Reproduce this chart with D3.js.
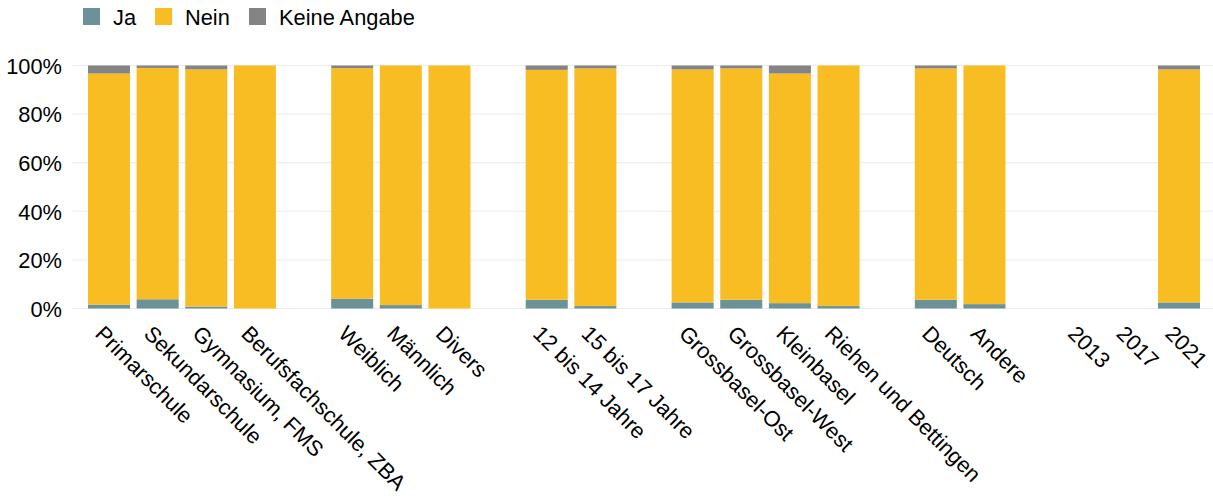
<!DOCTYPE html>
<html>
<head>
<meta charset="utf-8">
<script src="https://cdn.jsdelivr.net/npm/d3@7"></script>
<style>
    body { margin: 0; background: #fff; }
    svg { font-family: "Liberation Sans", Arial, sans-serif; }
</style>
</head>
<body>
<div id="chart"></div>
<script>
// Kategorien, nach Gruppen (zwischen den Gruppen bleibt eine Lücke)
const gruppen = [
    ["Primarschule", "Sekundarschule", "Gymnasium, FMS", "Berufsfachschule, ZBA"],
    ["Weiblich", "Männlich", "Divers"],
    ["12 bis 14 Jahre", "15 bis 17 Jahre"],
    ["Grossbasel-Ost", "Grossbasel-West", "Kleinbasel", "Riehen und Bettingen"],
    ["Deutsch", "Andere"],
    ["2013", "2017", "2021"]
];

// Anteile in Prozent, gleiche Reihenfolge wie oben (2013 und 2017 ohne Werte)
const ja          = [1.6, 3.8, 0.8, 0,   4.0, 1.4, 0,   3.6, 1.0,   2.5, 3.6, 2.2, 1.0,   3.6, 1.8,   null, null, 2.5];
const nein        = [95.1, 95.2, 97.6, 100,   94.9, 98.6, 100,   94.6, 97.8,   95.9, 95.2, 94.5, 99.0,   95.2, 98.2,   null, null, 95.9];
const keineAngabe = [3.3, 1.0, 1.6, 0,   1.1, 0, 0,   1.8, 1.2,   1.6, 1.2, 3.3, 0,   1.2, 0,   null, null, 1.6];

const serien = ["Ja", "Nein", "Keine Angabe"];
const farben = ["#6b9199", "#f9bd24", "#848484"];
const yTicks = [0, 20, 40, 60, 80, 100];

var width = 1213;
var height = 500;
var fontSize = "21.8px";

var kategorien = gruppen.flat();
var data = kategorien.map(function(k, i) {
    return { kategorie: k, "Ja": ja[i] || 0, "Nein": nein[i] || 0, "Keine Angabe": keineAngabe[i] || 0 };
});

// Domain mit Platzhaltern für die Lücken
var domain = [];
gruppen.forEach(function(g, i) {
    if (i > 0) domain.push("__luecke" + i);
    g.forEach(function(k) { domain.push(k); });
});

var svg = d3.select("#chart")
    .append("svg")
    .attr("width", width)
    .attr("height", height);

var x = d3.scaleBand()
    .domain(domain)
    .range([88, 1200])
    .paddingInner(0.136)
    .paddingOuter(0);

var y = d3.scaleLinear()
    .domain([0, 100])
    .range([308.5, 65.5]);

// Gitterlinien
svg.append("g")
    .selectAll("line")
    .data(yTicks)
    .enter()
    .append("line")
    .attr("x1", 72)
    .attr("x2", width)
    .attr("y1", function(d) { return y(d); })
    .attr("y2", function(d) { return y(d); })
    .attr("stroke", "#ebebeb")
    .attr("stroke-width", 1);

// Gestapelte Balken
var stack = d3.stack().keys(serien);
var stacked = stack(data);

svg.append("g")
    .selectAll("g")
    .data(stacked)
    .enter()
    .append("g")
    .attr("fill", function(d, i) { return farben[i]; })
    .selectAll("rect")
    .data(function(d) { return d; })
    .enter()
    .append("rect")
    .attr("x", function(d) { return x(d.data.kategorie); })
    .attr("y", function(d) { return y(d[1]); })
    .attr("width", x.bandwidth())
    .attr("height", function(d) { return Math.max(0, y(d[0]) - y(d[1])); });

// y-Achse
var yAxis = svg.append("g")
    .attr("transform", "translate(62,0)")
    .call(d3.axisLeft(y).tickValues(yTicks).tickSize(0).tickPadding(0).tickFormat(function(d) { return d + "%"; }));
yAxis.select(".domain").remove();
yAxis.selectAll("text")
    .style("font-size", fontSize)
    .style("font-family", "Liberation Sans, Arial, sans-serif")
    .attr("fill", "#000")
    .attr("dy", "0.36em");

// x-Beschriftungen (45 Grad gedreht)
svg.append("g")
    .selectAll("text")
    .data(kategorien)
    .enter()
    .append("text")
    .attr("transform", function(d) {
        return "translate(" + (x(d) + x.bandwidth() / 2 - 15) + ",335) rotate(45)";
    })
    .attr("text-anchor", "start")
    .style("font-size", fontSize)
    .attr("fill", "#000")
    .text(function(d) { return d; });

// Legende
var legende = svg.append("g");
var legendX = [83, 155, 249];
serien.forEach(function(s, i) {
    legende.append("rect")
        .attr("x", legendX[i])
        .attr("y", 8)
        .attr("width", 17)
        .attr("height", 17)
        .attr("fill", farben[i]);
    legende.append("text")
        .attr("x", legendX[i] + 30)
        .attr("y", 17)
        .attr("dy", "0.36em")
        .style("font-size", fontSize)
        .attr("fill", "#000")
        .text(s);
});
</script>
</body>
</html>
